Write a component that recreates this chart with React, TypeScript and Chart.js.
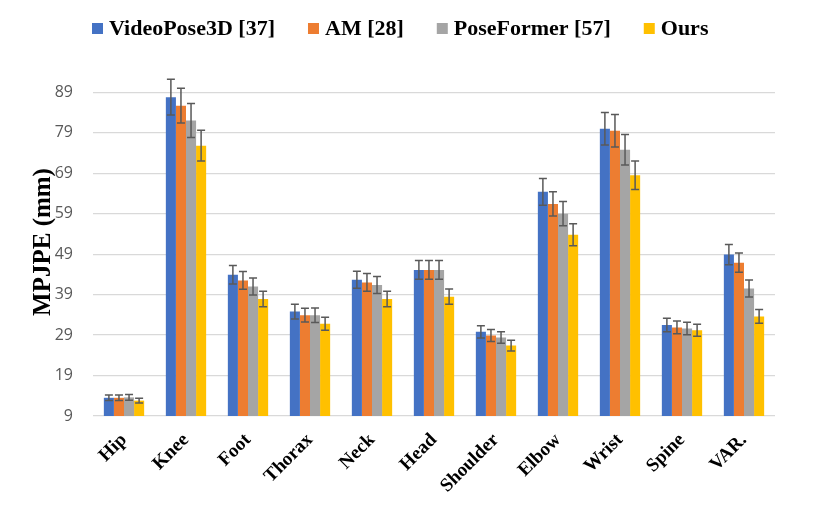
import React, { useEffect, useRef } from "react";
import { Chart, registerables } from "chart.js";

Chart.register(...registerables);

const categories = ["Hip", "Knee", "Foot", "Thorax", "Neck", "Head", "Shoulder", "Elbow", "Wrist", "Spine", "VAR."];
const seriesNames = ["VideoPose3D [37]", "AM [28]", "PoseFormer [57]", "Ours"];
const seriesColors = ["#4472C4", "#ED7D31", "#A5A5A5", "#FFC000"];

const videoPose3D = [13.5, 87.8, 43.9, 34.8, 42.7, 45.1, 29.8, 64.4, 80.0, 31.5, 48.9];
const am = [13.5, 85.7, 42.5, 33.9, 42.0, 45.1, 28.9, 61.4, 79.5, 30.9, 46.9];
const poseFormer = [13.6, 82.0, 41.0, 33.9, 41.4, 45.1, 28.4, 59.0, 74.8, 30.6, 40.5];
const ours = [12.8, 75.8, 37.9, 31.8, 37.9, 38.5, 26.4, 53.8, 68.5, 30.2, 33.6];

const videoPose3DErr = [0.7, 4.4, 2.3, 1.8, 2.1, 2.3, 1.5, 3.3, 4.0, 1.65, 2.5];
const amErr = [0.7, 4.3, 2.2, 1.7, 2.2, 2.3, 1.5, 3.0, 4.0, 1.6, 2.4];
const poseFormerErr = [0.7, 4.2, 2.1, 1.8, 2.1, 2.3, 1.45, 3.0, 3.75, 1.55, 2.1];
const oursErr = [0.6, 3.8, 1.9, 1.6, 1.9, 1.9, 1.35, 2.7, 3.5, 1.5, 1.7];

const yTicks = [9, 19, 29, 39, 49, 59, 69, 79, 89];
const yMin = 9;
const yMax = 95;

const seriesValues = [videoPose3D, am, poseFormer, ours];
const seriesErrors = [videoPose3DErr, amErr, poseFormerErr, oursErr];

const errorBarPlugin = {
  id: "errorBars",
  afterDatasetsDraw(chart: any) {
    const ctx = chart.ctx;
    const yScale = chart.scales.y;
    ctx.save();
    ctx.strokeStyle = "#595959";
    ctx.lineWidth = 1.5;
    chart.data.datasets.forEach((ds: any, di: number) => {
      const meta = chart.getDatasetMeta(di);
      const errs = seriesErrors[di];
      meta.data.forEach((el: any, i: number) => {
        const v = ds.data[i];
        const e = errs[i];
        const x = el.x;
        const yTop = yScale.getPixelForValue(v + e);
        const yBot = yScale.getPixelForValue(v - e);
        const cap = 4;
        ctx.beginPath();
        ctx.moveTo(x, yTop);
        ctx.lineTo(x, yBot);
        ctx.moveTo(x - cap, yTop);
        ctx.lineTo(x + cap, yTop);
        ctx.moveTo(x - cap, yBot);
        ctx.lineTo(x + cap, yBot);
        ctx.stroke();
      });
    });
    ctx.restore();
  },
};

const legendPlugin = {
  id: "customLegend",
  afterDraw(chart: any) {
    const ctx = chart.ctx;
    ctx.save();
    ctx.font = "bold 22px 'Liberation Serif'";
    ctx.textBaseline = "alphabetic";
    ctx.textAlign = "left";
    let x = 92;
    const baseline = 35;
    const box = 11;
    seriesNames.forEach((name, i) => {
      ctx.fillStyle = seriesColors[i];
      ctx.fillRect(x, baseline - box - 1, box, box);
      x += box + 6;
      ctx.fillStyle = "#000000";
      ctx.fillText(name, x, baseline);
      x += ctx.measureText(name).width + 33;
    });
    ctx.restore();
  },
};

export default function App() {
  const canvasRef = useRef<HTMLCanvasElement | null>(null);

  useEffect(() => {
    if (!canvasRef.current) return;
    const chart = new Chart(canvasRef.current, {
      type: "bar",
      data: {
        labels: categories,
        datasets: seriesNames.map((name, i) => ({
          label: name,
          data: seriesValues[i],
          backgroundColor: seriesColors[i],
          borderWidth: 0,
          barPercentage: 1.0,
          categoryPercentage: 0.65,
        })),
      },
      options: {
        animation: false,
        responsive: true,
        maintainAspectRatio: false,
        devicePixelRatio: 1,
        layout: { padding: { left: 0, right: 56, top: 68, bottom: 0 } },
        plugins: {
          legend: { display: false },
          title: { display: false },
          tooltip: { enabled: false },
        },
        scales: {
          x: {
            grid: { display: false },
            border: { display: false },
            ticks: {
              autoSkip: false,
              minRotation: 45,
              maxRotation: 45,
              padding: 5,
              color: "#000000",
              font: { family: "'Liberation Serif'", size: 19, weight: "bold" },
            },
            afterFit(scale: any) {
              scale.height = 92;
            },
          },
          y: {
            min: yMin,
            max: yMax,
            afterBuildTicks(scale: any) {
              scale.ticks = yTicks.map((v) => ({ value: v }));
            },
            afterFit(scale: any) {
              scale.width = 93;
            },
            grid: { color: "#D9D9D9", lineWidth: 1.2, drawTicks: false },
            border: { display: false },
            ticks: {
              padding: 20,
              color: "#595959",
              font: { family: "'Open Sans'", size: 16 },
            },
            title: {
              display: true,
              text: "MPJPE (mm)",
              color: "#000000",
              font: { family: "'Liberation Serif'", size: 25, weight: "bold" },
              padding: { top: 29, bottom: 0 },
            },
          },
        },
      },
      plugins: [errorBarPlugin, legendPlugin],
    });
    return () => chart.destroy();
  }, []);

  return (
    <div style={{ position: "absolute", left: 0, top: 0, width: 831, height: 508, background: "#ffffff" }}>
      <canvas ref={canvasRef} />
    </div>
  );
}
